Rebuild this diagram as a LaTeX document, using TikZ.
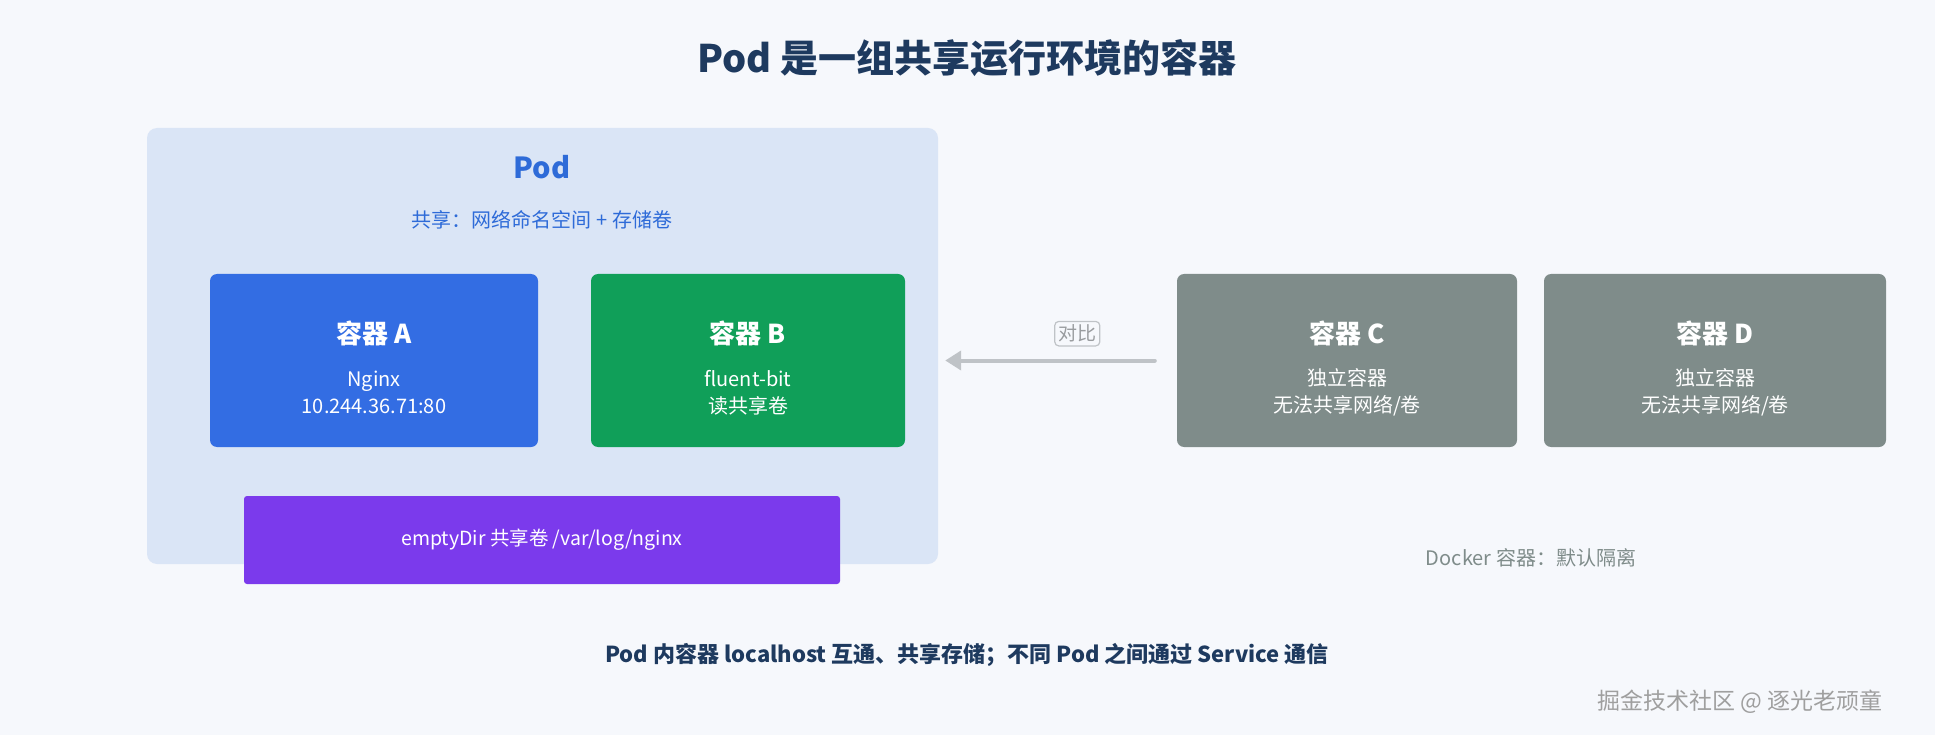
\documentclass[tikz,border=0pt]{standalone}
\usepackage{fontspec}
\setmainfont{Noto Sans CJK SC}
\usetikzlibrary{positioning, arrows.meta, calc}

\definecolor{bgcol}{HTML}{F6F8FC}
\definecolor{podfill}{HTML}{DAE5F6}
\definecolor{podblue}{HTML}{2E6BD8}
\definecolor{ablue}{HTML}{336DE3}
\definecolor{bgreen}{HTML}{109F59}
\definecolor{volpurple}{HTML}{7B3AEC}
\definecolor{dgray}{HTML}{7F8C8A}
\definecolor{navy}{HTML}{1E3A5F}
\definecolor{arrgray}{HTML}{BFC3C7}
\newcommand\fsz[1]{\fontsize{#1}{#1}\selectfont}

\begin{document}
\begin{tikzpicture}[x=1pt,y=-1pt,
        box/.style={rounded corners=7pt, inner sep=0pt, minimum height=173pt},
        ctitle/.style={text=white, font=\fsz{26}\bfseries},
        cbody/.style={text=white, align=center, font=\fontsize{20}{27}\selectfont}]
        \fill[bgcol] (0,0) rectangle (1935,735);
        \useasboundingbox (0,0) rectangle (1935,735);

        \node[font=\fsz{38}\bfseries, text=navy] (title) at (967,58) {Pod 是一组共享运行环境的容器};

        % pod with two containers
        \node[fill=podfill, rounded corners=10pt, minimum width=791pt, minimum height=436pt] (pod) at (542.5,346) {};
        \node[font=\fsz{29}\bfseries, text=podblue] (podlbl) at (542,167) {Pod};
        \node[font=\fsz{20}, text=podblue] (podsub) at (542,220) {共享：网络命名空间 + 存储卷};

        \node[box, fill=ablue, minimum width=328pt] (ca) at (374,360.5) {};
        \node[ctitle] at ([yshift=27.5pt]ca.center) {容器 A};
        \node[cbody] at ([yshift=-32pt]ca.center) {Nginx\\10.244.36.71:80};

        \node[box, fill=bgreen, minimum width=314pt] (cb) at (748,360.5) {};
        \node[ctitle] at ([yshift=27.5pt]cb.center) {容器 B};
        \node[cbody] at ([yshift=-32pt]cb.center) {fluent-bit\\读共享卷};

        \node[fill=volpurple, rounded corners=3pt, minimum width=596pt, minimum height=88pt,
            text=white, font=\fsz{19.5}] (vol) at (542,540) {emptyDir 共享卷 /var/log/nginx};

        % docker containers
        \node[box, fill=dgray, minimum width=340pt] (cc) at (1347,360.5) {};
        \node[ctitle] at ([yshift=27.5pt]cc.center) {容器 C};
        \node[cbody] at ([yshift=-32pt]cc.center) {独立容器\\无法共享网络/卷};

        \node[box, fill=dgray, minimum width=342pt] (cd) at (1715,360.5) {};
        \node[ctitle] at ([yshift=27.5pt]cd.center) {容器 D};
        \node[cbody] at ([yshift=-32pt]cd.center) {独立容器\\无法共享网络/卷};

        \node[font=\fsz{20}, text=dgray] (dock) at (1531,558) {Docker 容器：默认隔离};

        \draw[arrgray, line width=4pt, line cap=round, -{Triangle[length=16pt,width=19pt]}]
            (cc.west) ++(-22,0) -- ($(pod.east |- cc.west)+(7,0)$)
            node[pos=0.37, above=14pt, draw=arrgray, line width=1.2pt, rounded corners=4pt,
                fill=bgcol, text=arrgray!80!black, font=\fsz{19}, inner sep=3.5pt] (cmp) {对比};

        \node[font=\fsz{22}\bfseries, text=navy] (note) at (967,655)
            {Pod 内容器 localhost 互通、共享存储；不同 Pod 之间通过 Service 通信};
        \node[font=\fsz{23}, text=gray!75, anchor=east] (wm) at (1886,702) {掘金技术社区 @ 逐光老顽童};
    \end{tikzpicture}
\end{document}
